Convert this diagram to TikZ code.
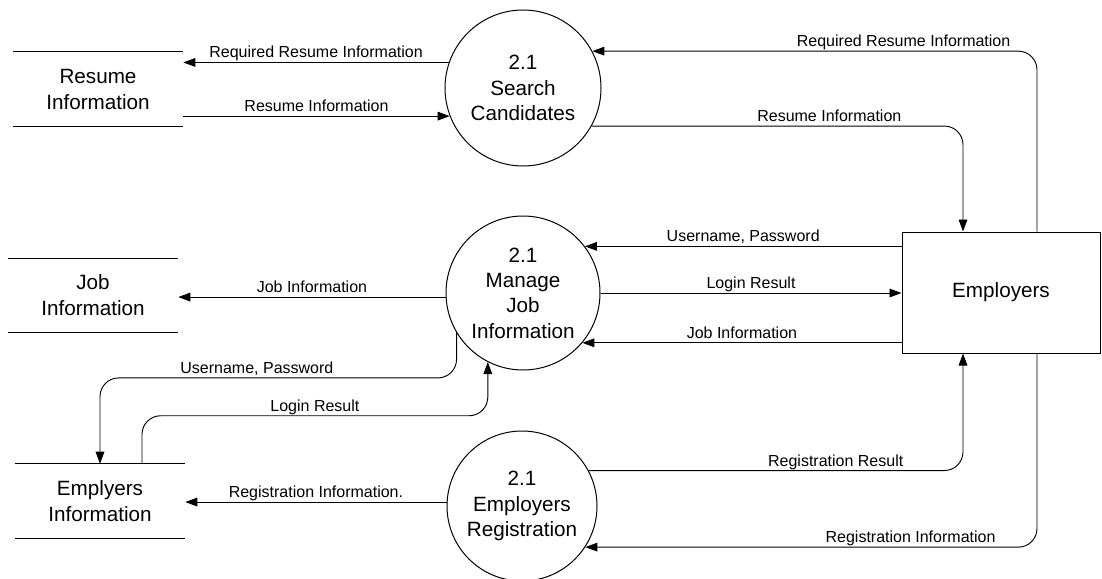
\documentclass[tikz,border=0pt]{standalone}
\usepackage{fontspec}
\setmainfont{Liberation Sans}
\usetikzlibrary{arrows.meta,calc}
\begin{document}
\begin{tikzpicture}[x=0.75pt,y=-0.75pt,
  proc/.style={circle,draw,line width=0.75pt,minimum size=#1,inner sep=0pt,align=center,font=\fontsize{15.5}{19}\selectfont},
  store/.style={minimum width=127.5pt,minimum height=55.5pt,inner sep=0pt,align=center,font=\fontsize{15.5}{19.5}\selectfont},
  storeline/.style={line width=0.75pt},
  ent/.style={draw,line width=0.75pt,minimum width=148.5pt,minimum height=90.75pt,inner sep=0pt,font=\fontsize{15.5}{19}\selectfont},
  flow/.style={line width=0.7pt,-{Triangle[length=9pt,width=6.5pt]},rounded corners=14pt},
  lbl/.style={font=\fontsize{12}{14}\selectfont,inner sep=1pt,text height=0.72em,text depth=0.2em}]
\useasboundingbox (0,0) rectangle (1102,578);

% processes
\node[proc=117pt] (c1) at (523,88) {2.1\\Search\\Candidates};
\node[proc=115.5pt] (c2) at (523,293) {2.1\\Manage\\Job\\Information};
\node[proc=112.5pt] (c3) at (522,506) {2.1\\Employers\\Registration};

% data stores
\node[store] (rs) at (98,89) {Resume\\Information};
\node[store] (js) at (93,295.5) {Job\\Information};
\node[store] (es) at (100,501) {Emplyers\\Information};
\foreach \s in {rs,js,es}{
  \draw[storeline] (\s.north west) -- (\s.north east);
  \draw[storeline] (\s.south west) -- (\s.south east);
}

% external entity
\node[ent] (emp) at (1001,292.5) {Employers};

% flows: resume store
\draw[flow] (c1.161) -- node[lbl,above]{Required Resume Information} (c1.161 -| rs.east);
\draw[flow] (c1.201 -| rs.east) -- node[lbl,above]{Resume Information} (c1.201);

% flows: employers <-> search candidates
\draw[flow] ([xshift=27pt]emp.north) |- node[lbl,above,pos=0.65]{Required Resume Information} (c1.28);
\draw[flow] (c1.331) -| node[lbl,above,pos=0.32]{Resume Information} ([xshift=-28.5pt]emp.north);

% flows: employers <-> manage job information
\draw[flow] (c2.37 -| emp.west) -- node[lbl,above]{Username, Password} (c2.37);
\draw[flow] (c2.east) -- node[lbl,above]{Login Result} (c2.east -| emp.west);
\draw[flow] (c2.320 -| emp.west) -- node[lbl,above]{Job Information} (c2.320);

% flows: job store
\draw[flow] (c2.183) -- node[lbl,above]{Job Information} (c2.183 -| js.east);

% flows: manage job <-> employers store
\draw[flow] (c2.211) -- ++(0,45) -| node[lbl,above,pos=0.28]{Username, Password} (es.north);
\draw[flow] ([xshift=31.5pt]es.north) -- ++(0,-48) -| node[lbl,above,pos=0.25]{Login Result} (c2.243);

% flows: registration
\draw[flow] (c3.177) -- node[lbl,above]{Registration Information.} (c3.177 -| es.east);
\draw[flow] (c3.28) -| node[lbl,above,pos=0.33]{Registration Result} ([xshift=-28.5pt]emp.south);
\draw[flow] ([xshift=27pt]emp.south) |- node[lbl,above,pos=0.64]{Registration Information} (c3.327);
\end{tikzpicture}
\end{document}
